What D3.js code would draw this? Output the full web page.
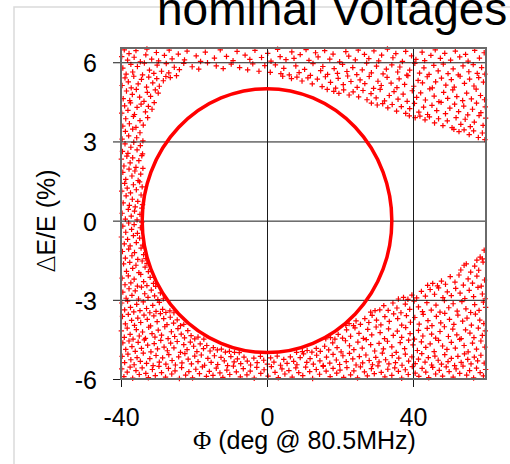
<!DOCTYPE html>
<html>
<head>
<meta charset="utf-8">
<script src="https://cdn.jsdelivr.net/npm/d3@7"></script>
<style>
  body { margin: 0; background: #fff; }
  svg text { font-family: "Liberation Sans", Arial, sans-serif; fill: #000; }
</style>
</head>
<body>
<svg id="chart" width="510" height="464"></svg>
<script>
// axis settings
const xDomain = [-40, 60];
const yDomain = [-6, 6.54];
const xTicks = [-40, 0, 40];
const yTicks = [-6, -3, 0, 3, 6];

// acceptance ellipse (half widths in deg and %)
const ellipsePhi = 34.2;
const ellipseDE = 5.0;

// particle cloud, [phi (deg), dE/E (%)]
const topBand = [
  [-39.8,6.21],[-39.1,6.47],[-38.2,6.08],[-37.8,6.33],[-36.4,6.19],[-35.9,6.44],[-34.7,6.02],[-33.2,6.28],[-32.9,6.5],[-31.6,6.12],
  [-30.3,6.37],[-29.7,6.05],[-28.1,6.26],[-26.8,6.46],[-26.0,6.13],[-24.3,6.31],[-22.6,6.09],[-21.9,6.42],[-19.4,6.24],[-18.2,6.03],
  [-16.9,6.38],[-14.4,6.16],[-12.8,6.47],[-11.1,6.22],[-9.3,6.06],[-8.2,6.41],[-6.0,6.27],[-4.7,6.11],[-3.3,6.45],[-1.5,6.18],
  [0.2,6.34],[1.1,6.04],[2.9,6.49],[3.6,6.21],[5.2,6.1],[6.8,6.39],[7.4,6.15],[9.1,6.29],[10.7,6.48],[11.5,6.07],
  [13.3,6.36],[14.0,6.2],[15.8,6.44],[17.2,6.12],[18.1,6.31],[19.9,6.02],[21.6,6.4],[22.4,6.23],[24.2,6.09],[25.0,6.46],
  [26.7,6.3],[27.9,6.14],[29.3,6.43],[30.6,6.05],[31.4,6.27],[33.0,6.5],[34.5,6.17],[35.3,6.33],[37.1,6.03],[38.0,6.41],
  [39.6,6.24],[40.8,6.11],[42.5,6.38],[43.2,6.06],[44.9,6.26],[46.1,6.47],[47.5,6.15],[48.7,6.34],[50.3,6.08],[51.6,6.42],
  [52.8,6.2],[54.4,6.3],[55.1,6.04],[56.9,6.45],[58.2,6.16],[59.5,6.36],
  [-39.5,5.78],[-38.6,5.55],[-37.3,5.92],[-36.8,5.63],[-35.5,5.84],[-34.1,5.52],[-33.6,5.97],[-32.2,5.7],[-31.0,5.58],[-30.1,5.89],
  [-28.9,5.66],[-27.6,5.95],[-26.9,5.6],[-25.4,5.81],[-24.0,5.72],[-22.8,5.96],[-20.5,5.83],[-18.7,5.74],[-16.3,5.98],[-13.9,5.86],
  [-12.0,5.76],[-9.8,5.93],[-7.5,5.8],[-5.3,5.71],[-3.9,5.94],[-2.2,5.66],[-0.6,5.87],[0.9,5.62],[2.3,5.9],[3.8,5.57],
  [4.6,5.77],[6.1,5.52],[7.9,5.86],[8.8,5.61],[10.3,5.73],[11.9,5.5],[12.6,5.95],[14.7,5.68],[15.3,5.84],[16.6,5.54],
  [18.4,5.76],[19.3,5.58],[20.7,5.92],[21.9,5.65],[23.5,5.8],[24.6,5.53],[26.1,5.71],[27.3,5.97],[28.6,5.6],[30.0,5.85],
  [31.8,5.56],[32.7,5.74],[34.2,5.9],[35.8,5.63],[36.4,5.82],[38.3,5.51],[39.1,5.7],[40.5,5.96],[41.8,5.59],[43.0,5.79],
  [44.4,5.54],[45.7,5.88],[46.9,5.67],[48.3,5.93],[49.6,5.57],[51.0,5.75],[52.4,5.52],[53.7,5.86],[55.3,5.64],[56.5,5.91],
  [57.6,5.58],[58.8,5.8],[59.7,5.55]
];

const upperRight = [
  [4.3,5.47],[6.7,5.38],[8.2,5.44],[9.6,5.29],[11.2,5.41],[12.4,5.18],[13.8,5.36],[15.1,5.08],[16.0,5.45],[17.4,5.24],
  [18.8,5.02],[19.5,5.39],[20.9,5.15],[22.1,5.48],[23.0,5.27],[24.7,5.05],[25.5,5.33],[26.8,5.19],[28.0,5.46],[29.2,5.01],
  [30.4,5.28],[31.3,5.12],[32.9,5.43],[34.0,5.21],[35.6,5.04],[36.2,5.37],[37.7,5.16],[38.6,5.49],[40.2,5.09],[41.4,5.31],
  [42.6,5.22],[43.9,5.45],[45.3,5.03],[46.2,5.26],[47.8,5.4],[49.0,5.13],[50.5,5.34],[51.3,5.06],[52.9,5.47],[54.1,5.2],
  [55.5,5.36],[56.7,5.1],[58.0,5.42],[59.3,5.25],
  [16.5,4.97],[18.3,4.9],[19.7,4.82],[21.0,4.95],[22.5,4.76],[23.6,4.88],[25.1,4.69],[26.3,4.93],[27.4,4.58],[28.5,4.81],
  [29.9,4.65],[31.0,4.97],[32.2,4.54],[33.5,4.74],[34.8,4.89],[35.9,4.6],[37.3,4.79],[38.4,4.52],[39.8,4.92],[41.0,4.67],
  [42.1,4.84],[43.4,4.57],[44.6,4.99],[45.8,4.72],[47.1,4.51],[48.4,4.86],[49.5,4.63],[50.9,4.95],[52.0,4.7],[53.6,4.55],
  [54.7,4.83],[56.0,4.61],[57.3,4.98],[58.5,4.74],[59.6,4.58],
  [28.6,4.45],[30.2,4.38],[31.7,4.43],[33.1,4.27],[34.3,4.4],[35.5,4.15],[36.8,4.32],[38.0,4.06],[39.1,4.24],[40.4,4.44],
  [41.6,4.11],[42.9,4.3],[44.0,4.02],[45.2,4.37],[46.5,4.17],[47.7,4.48],[48.9,4.05],[50.1,4.26],[51.4,4.41],[52.5,4.13],
  [53.9,4.34],[55.0,4.01],[56.3,4.22],[57.4,4.45],[58.6,4.09],[59.8,4.31],
  [39.0,3.97],[40.6,3.9],[41.9,3.96],[43.3,3.82],[44.5,3.93],[45.9,3.7],[47.0,3.86],[48.2,3.6],[49.4,3.78],[50.7,3.52],
  [51.8,3.9],[53.1,3.65],[54.3,3.84],[55.7,3.56],[56.8,3.73],[58.1,3.98],[59.2,3.61],[59.9,3.88],
  [51.2,3.46],[52.6,3.37],[54.0,3.44],[55.4,3.26],[56.6,3.4],[57.9,3.15],[59.0,3.32],[59.7,3.07]
];

const leftStrip = [
  [-39.7,5.12],[-38.9,5.41],[-38.0,5.26],[-37.2,5.03],[-36.5,5.47],[-35.3,5.18],[-34.4,5.35],[-33.0,5.06],[-32.4,5.44],[-31.3,5.22],
  [-30.2,5.38],[-29.5,5.09],[-28.4,5.3],[-27.7,5.46],[-26.5,5.42],[-24.8,5.49],
  [-39.4,4.62],[-38.5,4.91],[-37.6,4.55],[-36.9,4.78],[-35.8,4.97],[-34.9,4.68],[-33.7,4.52],[-32.8,4.86],[-31.9,4.71],[-30.6,4.95],[-29.8,4.83],
  [-39.8,4.07],[-39.0,4.35],[-38.1,4.18],[-37.4,4.46],[-36.3,4.02],[-35.6,4.29],[-34.5,4.41],[-33.3,4.12],[-32.5,4.33],[-31.5,4.22],[-30.9,4.47],
  [-39.5,3.58],[-38.7,3.86],[-37.7,3.67],[-36.6,3.95],[-35.9,3.53],[-34.8,3.79],[-33.9,3.62],[-32.7,3.9],
  [-39.7,3.09],[-38.8,3.38],[-37.9,3.21],[-36.8,3.47],[-35.7,3.14],[-34.8,3.33],[-34.0,3.02],
  [-39.6,2.62],[-38.9,2.91],[-38.1,2.55],[-37.3,2.78],[-36.5,2.97],[-35.6,2.68],[-34.7,2.84],[-34.1,2.53],
  [-39.9,2.33],[-39.2,2.07],[-38.4,2.44],[-37.5,2.19],[-36.8,2.38],[-35.9,2.02],[-35.1,2.27],[-34.3,2.46],
  [-39.5,1.83],[-38.7,1.56],[-37.8,1.95],[-37.0,1.69],[-36.2,1.88],[-35.3,1.52],[-34.6,1.76],[-34.0,1.98],
  [-39.8,1.12],[-39.0,1.41],[-38.3,1.23],[-37.4,1.05],[-36.6,1.36],[-35.8,1.17],[-34.9,1.47],[-34.2,1.28],
  [-39.4,0.67],[-38.6,0.94],[-37.7,0.58],[-36.9,0.81],[-36.1,0.52],[-35.4,0.73],[-34.5,0.97],[-34.1,0.61],
  [-39.7,0.28],[-38.8,0.06],[-38.0,0.43],[-37.2,0.17],[-36.3,0.36],[-35.6,0.03],[-34.8,0.24],[-34.3,0.47],
  [-39.5,-0.21],[-38.7,-0.44],[-37.9,-0.09],[-37.1,-0.33],[-36.4,-0.15],[-35.5,-0.48],[-34.7,-0.27],[-34.3,-0.06],
  [-39.9,-0.62],[-39.1,-0.88],[-38.2,-0.71],[-37.5,-0.96],[-36.6,-0.57],[-35.8,-0.83],[-34.9,-0.66],[-34.1,-0.93],
  [-39.6,-1.17],[-38.8,-1.42],[-37.9,-1.08],[-37.0,-1.33],[-36.3,-1.21],[-35.4,-1.47],[-34.5,-1.04],[-33.8,-1.29],[-33.2,-1.44],
  [-39.3,-1.64],[-38.5,-1.92],[-37.6,-1.58],[-36.8,-1.81],[-35.9,-1.69],[-35.1,-1.97],[-34.2,-1.53],[-33.4,-1.76],[-32.5,-1.93],[-32.9,-1.62]
];

const lowerLeft = [
  [-39.7,-2.18],[-38.9,-2.43],[-38.0,-2.09],[-37.3,-2.36],[-36.4,-2.22],[-35.5,-2.48],[-34.6,-2.04],[-33.8,-2.31],[-32.9,-2.46],[-32.0,-2.15],
  [-31.1,-2.38],[-30.5,-2.49],
  [-39.5,-2.71],[-38.6,-2.94],[-37.8,-2.58],[-37.0,-2.83],[-36.1,-2.66],[-35.2,-2.97],[-34.4,-2.52],[-33.5,-2.77],[-32.6,-2.91],[-31.7,-2.63],
  [-30.8,-2.85],[-29.9,-2.99],[-29.2,-2.74],[-28.4,-2.96],
  [-39.8,-3.12],[-39.0,-3.38],[-38.2,-3.05],[-37.4,-3.29],[-36.5,-3.46],[-35.7,-3.17],[-34.8,-3.41],[-33.9,-3.08],[-33.0,-3.33],[-32.1,-3.49],
  [-31.3,-3.21],[-30.4,-3.44],[-29.5,-3.1],[-28.6,-3.36],[-27.7,-3.48],[-26.6,-3.42],[-25.5,-3.49],
  [-39.6,-3.63],[-38.8,-3.91],[-38.0,-3.55],[-37.1,-3.78],[-36.3,-3.97],[-35.4,-3.69],[-34.6,-3.86],[-33.7,-3.58],[-32.8,-3.74],[-31.9,-3.99],
  [-31.0,-3.61],[-30.1,-3.83],[-29.2,-3.52],[-28.3,-3.71],[-27.4,-3.94],[-26.5,-3.66],[-25.6,-3.88],[-24.6,-3.76],[-23.7,-3.98],[-22.8,-3.93],
  [-39.9,-4.18],[-39.1,-4.42],[-38.3,-4.07],[-37.5,-4.31],[-36.7,-4.49],[-35.8,-4.13],[-35.0,-4.37],[-34.1,-4.22],[-33.3,-4.46],[-32.4,-4.04],
  [-31.5,-4.28],[-30.7,-4.41],[-29.8,-4.15],[-28.9,-4.34],[-28.0,-4.02],[-27.1,-4.47],[-26.2,-4.21],[-25.3,-4.39],[-24.4,-4.09],[-23.5,-4.3],
  [-22.6,-4.44],[-21.7,-4.17],[-20.8,-4.36],[-19.8,-4.48],[-18.9,-4.41],[-17.3,-4.49]
];

const lowerRight = [
  [58.4,-1.38],[59.5,-1.12],[59.0,-1.45],
  [53.1,-1.87],[54.0,-1.69],[54.6,-1.64],[55.8,-1.95],[56.9,-1.72],[57.5,-1.5],[58.0,-1.88],[59.2,-1.57],
  [44.0,-2.45],[45.4,-2.38],[46.7,-2.47],[47.8,-2.29],[48.9,-2.41],[50.2,-2.12],[51.5,-2.33],[52.6,-2.06],[53.8,-2.44],[55.1,-2.21],
  [56.3,-2.37],[57.5,-2.1],[58.7,-2.48],[59.6,-2.25],
  [36.0,-2.97],[37.4,-2.91],[38.6,-2.98],[39.7,-2.82],[41.0,-2.93],[42.3,-2.68],[43.4,-2.86],[44.7,-2.61],[45.9,-2.79],[47.0,-2.55],
  [48.2,-2.92],[49.4,-2.7],[50.5,-2.84],[51.7,-2.57],[52.9,-2.75],[54.2,-2.95],[55.4,-2.64],[56.6,-2.88],[57.8,-2.53],[59.0,-2.78],[59.8,-2.96],
  [28.4,-3.47],[29.6,-3.41],[30.9,-3.38],[32.0,-3.22],[33.2,-3.4],[34.5,-3.12],[35.6,-3.31],[36.7,-3.49],[37.9,-3.16],[39.1,-3.36],
  [40.3,-3.05],[41.5,-3.27],[42.6,-3.45],[43.8,-3.11],[45.0,-3.39],[46.3,-3.2],[47.4,-3.47],[48.6,-3.03],[49.8,-3.3],[51.0,-3.15],
  [52.1,-3.43],[53.4,-3.07],[54.5,-3.34],[55.8,-3.48],[56.9,-3.18],[58.1,-3.4],[59.3,-3.09],[59.9,-3.29],
  [21.6,-3.97],[22.5,-3.9],[23.7,-3.98],[24.4,-3.8],[25.6,-3.93],[26.8,-3.71],[27.9,-3.86],[28.8,-3.59],[30.0,-3.77],[31.2,-3.95],
  [32.3,-3.64],[33.5,-3.82],[34.7,-3.53],[35.8,-3.71],[36.9,-3.96],[38.2,-3.6],[39.3,-3.85],[40.5,-3.67],[41.7,-3.92],[42.8,-3.55],
  [44.1,-3.79],[45.2,-3.98],[46.4,-3.63],[47.6,-3.87],[48.7,-3.51],[50.0,-3.74],[51.2,-3.93],[52.3,-3.58],[53.6,-3.81],[54.8,-3.69],
  [56.0,-3.96],[57.1,-3.54],[58.3,-3.77],[59.4,-3.9],
  [16.1,-4.48],[17.4,-4.43],[18.6,-4.49],[19.5,-4.31],[20.7,-4.45],[21.8,-4.14],[22.9,-4.38],[24.1,-4.06],[25.2,-4.27],[26.4,-4.46],
  [27.6,-4.12],[28.7,-4.33],[29.9,-4.03],[31.0,-4.24],[32.2,-4.47],[33.3,-4.1],[34.6,-4.35],[35.7,-4.19],[36.9,-4.42],[38.0,-4.05],
  [39.2,-4.28],[40.4,-4.49],[41.5,-4.16],[42.7,-4.37],[43.9,-4.08],[45.1,-4.3],[46.2,-4.45],[47.4,-4.2],[48.6,-4.02],[49.7,-4.39],
  [50.9,-4.11],[52.0,-4.33],[53.2,-4.47],[54.4,-4.14],[55.6,-4.26],[56.7,-4.43],[57.9,-4.07],[59.0,-4.35],[59.8,-4.18]
];

const bottomBand = [
  [-39.5,-4.63],[-38.7,-4.88],[-37.8,-4.56],[-37.0,-4.77],[-36.1,-4.95],[-35.3,-4.61],[-34.4,-4.84],[-33.6,-4.52],[-32.7,-4.72],[-31.8,-4.97],
  [-30.9,-4.66],[-30.0,-4.86],[-29.1,-4.54],[-28.2,-4.79],[-27.3,-4.93],[-26.4,-4.64],[-25.5,-4.82],[-24.6,-4.58],[-23.7,-4.99],[-22.8,-4.7],
  [-21.9,-4.89],[-21.0,-4.6],[-20.1,-4.76],[-19.2,-4.96],[-18.3,-4.67],[-17.4,-4.85],[-16.5,-4.73],[-15.6,-4.94],[-14.7,-4.81],[-13.6,-4.9],
  [-12.5,-4.87],[-11.4,-4.98],[-10.3,-4.95],[-8.9,-4.99],[-7.6,-5.0],
  [8.1,-4.99],[9.7,-4.96],[11.0,-4.92],[12.3,-4.98],[13.5,-4.84],[14.6,-4.95],[15.8,-4.76],[16.9,-4.9],[18.0,-4.63],[19.2,-4.81],
  [20.3,-4.97],[21.5,-4.55],[22.6,-4.74],[23.8,-4.89],[24.9,-4.6],[26.1,-4.83],[27.2,-4.51],[28.4,-4.7],[29.5,-4.94],[30.7,-4.65],
  [31.9,-4.86],[33.0,-4.57],[34.2,-4.78],[35.4,-4.99],[36.5,-4.62],[37.7,-4.85],[38.8,-4.53],[40.0,-4.71],[41.2,-4.92],[42.3,-4.59],
  [43.5,-4.8],[44.7,-4.67],[45.8,-4.96],[47.0,-4.54],[48.1,-4.75],[49.3,-4.88],[50.5,-4.61],[51.6,-4.83],[52.8,-4.5],[54.0,-4.73],
  [55.1,-4.97],[56.3,-4.64],[57.4,-4.87],[58.6,-4.56],[59.7,-4.79],
  [-39.7,-5.14],[-39.0,-5.38],[-38.1,-5.06],[-37.3,-5.27],[-36.4,-5.46],[-35.6,-5.19],[-34.7,-5.33],[-33.9,-5.02],[-33.0,-5.41],[-32.1,-5.23],
  [-31.2,-5.49],[-30.4,-5.11],[-29.5,-5.36],[-28.6,-5.2],[-27.7,-5.44],[-26.9,-5.08],[-26.0,-5.3],[-25.1,-5.47],[-24.2,-5.16],[-23.3,-5.39],
  [-22.5,-5.04],[-21.6,-5.25],[-20.7,-5.43],[-19.8,-5.13],[-18.9,-5.34],[-18.0,-5.09],[-17.1,-5.48],[-16.2,-5.22],[-15.3,-5.37],[-14.4,-5.12],
  [-13.5,-5.45],[-12.6,-5.18],[-11.7,-5.31],[-10.8,-5.49],[-9.9,-5.15],[-9.0,-5.35],[-8.1,-5.24],[-7.2,-5.42],[-6.3,-5.17],[-5.4,-5.32],
  [-4.5,-5.47],[-3.6,-5.21],[-2.7,-5.38],[-1.8,-5.14],[-0.9,-5.29],[0.1,-5.44],[1.0,-5.2],[1.9,-5.36],[2.8,-5.13],[3.7,-5.48],
  [4.6,-5.26],[5.5,-5.41],[6.4,-5.16],[7.3,-5.33],[8.2,-5.46],[9.1,-5.19],[10.0,-5.05],[10.9,-5.37],[11.8,-5.23],[12.7,-5.44],
  [13.6,-5.1],[14.5,-5.31],[15.4,-5.49],[16.3,-5.17],[17.2,-5.4],[18.1,-5.07],[19.0,-5.28],[19.9,-5.45],[20.8,-5.12],[21.7,-5.34],
  [22.6,-5.03],[23.5,-5.24],[24.4,-5.47],[25.3,-5.15],[26.2,-5.39],[27.1,-5.09],[28.0,-5.3],[28.9,-5.46],[29.8,-5.18],[30.7,-5.35],
  [31.6,-5.02],[32.5,-5.27],[33.4,-5.43],[34.3,-5.11],[35.2,-5.38],[36.1,-5.21],[37.0,-5.48],[37.9,-5.06],[38.8,-5.32],[39.7,-5.16],
  [40.6,-5.42],[41.5,-5.25],[42.4,-5.04],[43.3,-5.36],[44.2,-5.19],[45.1,-5.47],[46.0,-5.13],[46.9,-5.29],[47.8,-5.44],[48.7,-5.08],
  [49.6,-5.34],[50.5,-5.22],[51.4,-5.49],[52.3,-5.14],[53.2,-5.37],[54.1,-5.05],[55.0,-5.26],[55.9,-5.43],[56.8,-5.17],[57.7,-5.31],
  [58.6,-5.1],[59.5,-5.4],
  [-39.8,-5.62],[-39.2,-5.91],[-38.3,-5.74],[-37.5,-5.55],[-36.8,-5.97],[-35.9,-5.68],[-35.0,-5.83],[-34.2,-5.58],[-33.2,-5.79],[-32.5,-5.95],
  [-31.4,-5.64],[-30.6,-5.87],[-29.6,-5.52],[-28.9,-5.76],[-27.8,-5.93],[-27.0,-5.6],[-26.1,-5.81],[-25.2,-5.69],[-24.0,-5.98],[-23.4,-5.57],
  [-22.3,-5.85],[-21.4,-5.72],[-20.4,-5.96],[-19.5,-5.63],[-18.5,-5.8],[-17.7,-5.54],[-16.6,-5.9],[-15.8,-5.71],[-14.8,-5.86],[-13.9,-5.59],
  [-12.9,-5.77],[-12.1,-5.94],[-11.0,-5.66],[-10.2,-5.83],[-9.2,-5.51],[-8.4,-5.73],[-7.3,-5.92],[-6.5,-5.61],[-5.5,-5.84],[-4.6,-5.7],
  [-3.5,-5.97],[-2.8,-5.56],[-1.7,-5.79],[-0.8,-5.65],[0.3,-5.89],[1.2,-5.53],[2.2,-5.75],[3.1,-5.95],[4.1,-5.62],[4.9,-5.81],
  [6.0,-5.68],[6.9,-5.93],[7.9,-5.58],[8.7,-5.76],[9.8,-5.87],[10.6,-5.55],[11.7,-5.72],[12.5,-5.98],[13.5,-5.64],[14.4,-5.82],
  [15.4,-5.52],[16.2,-5.7],[17.3,-5.91],[18.1,-5.6],[19.1,-5.78],[20.0,-5.66],[21.0,-5.94],[21.9,-5.57],[22.9,-5.84],[23.8,-5.69],
  [24.8,-5.96],[25.6,-5.54],[26.7,-5.73],[27.5,-5.88],[28.6,-5.61],[29.4,-5.8],[30.4,-5.5],[31.3,-5.75],[32.3,-5.92],[33.1,-5.63],
  [34.2,-5.86],[35.0,-5.58],[36.0,-5.71],[36.9,-5.97],[37.9,-5.65],[38.7,-5.83],[39.8,-5.53],[40.6,-5.78],[41.6,-5.9],[42.5,-5.6],
  [43.5,-5.74],[44.3,-5.95],[45.4,-5.56],[46.2,-5.81],[47.2,-5.67],[48.1,-5.89],[49.1,-5.54],[49.9,-5.72],[51.0,-5.93],[51.8,-5.62],
  [52.8,-5.79],[53.7,-5.51],[54.7,-5.85],[55.5,-5.68],[56.6,-5.96],[57.4,-5.59],[58.4,-5.76],[59.3,-5.88],[59.9,-5.64]
];

const svg = d3.select('#chart');

const plot = { left: 121, right: 486, top: 48, bottom: 379 };

const x = d3.scaleLinear().domain(xDomain).range([plot.left, plot.right]);
const y = d3.scaleLinear().domain(yDomain).range([plot.bottom, plot.top]);

// light slide frame behind everything
svg.append('path')
    .attr('d', 'M14,464V7H510')
    .attr('fill', 'none')
    .attr('stroke', '#dadada')
    .attr('stroke-width', 1.5);

// title, cut at the top like the slide
svg.append('text')
    .attr('x', 157)
    .attr('y', 25)
    .style('font-size', '46px')
    .text('nominal Voltages');

// cloud of particles
const cloud = [].concat(topBand, upperRight, leftStrip, lowerLeft, lowerRight, bottomBand);

svg.append('g')
    .selectAll('path')
    .data(cloud)
    .join('path')
    .attr('transform', d => `translate(${x(d[0])},${y(d[1])})`)
    .attr('d', 'M-2.7,0H2.7M0,-2.7V2.7')
    .attr('fill', 'none')
    .attr('stroke', '#ff0000')
    .attr('stroke-width', 1.2);

// grid lines + outside ticks
const tickOut = 8;
const yAxis = d3.axisLeft(y)
    .tickValues(yTicks)
    .tickFormat(d => String(d))
    .tickSize(-(plot.right - plot.left + tickOut))
    .tickPadding(16);

svg.append('g')
    .attr('transform', `translate(${plot.left - tickOut},0)`)
    .call(yAxis)
    .call(g => g.select('.domain').remove())
    .call(g => g.selectAll('line').attr('stroke', '#1a1a1a'))
    .call(g => g.selectAll('text').attr('dy', '0.38em').style('font-size', '25px').style('font-family', '"Liberation Sans", Arial, sans-serif'));

const xAxis = d3.axisBottom(x)
    .tickValues(xTicks)
    .tickFormat(d => String(d))
    .tickSize(-(plot.bottom - plot.top + tickOut))
    .tickPadding(21);

svg.append('g')
    .attr('transform', `translate(0,${plot.bottom + tickOut})`)
    .call(xAxis)
    .call(g => g.select('.domain').remove())
    .call(g => g.selectAll('line').attr('stroke', '#1a1a1a'))
    .call(g => g.selectAll('text').style('font-size', '25px').style('font-family', '"Liberation Sans", Arial, sans-serif'));

// acceptance ellipse
svg.append('ellipse')
    .attr('cx', x(0))
    .attr('cy', y(0))
    .attr('rx', x(ellipsePhi) - x(0))
    .attr('ry', y(0) - y(ellipseDE))
    .attr('fill', 'none')
    .attr('stroke', '#ff0000')
    .attr('stroke-width', 3.5);

// plot frame
svg.append('rect')
    .attr('x', plot.left)
    .attr('y', plot.top)
    .attr('width', plot.right - plot.left)
    .attr('height', plot.bottom - plot.top)
    .attr('fill', 'none')
    .attr('stroke', '#6a6a6a')
    .attr('stroke-width', 2);

// axis titles
svg.append('text')
    .attr('x', 193)
    .attr('y', 449)
    .style('font-size', '25px')
    .call(t => {
        t.append('tspan').style('font-family', '"Liberation Serif", serif').text('Φ');
        t.append('tspan').text(' (deg @ 80.5MHz)');
    });

svg.append('text')
    .attr('transform', 'translate(55,221) rotate(-90)')
    .attr('text-anchor', 'middle')
    .style('font-size', '25px')
    .call(t => {
        t.append('tspan').style('font-family', '"DejaVu Sans", sans-serif').style('font-weight', 300).text('Δ');
        t.append('tspan').text('E/E (%)');
    });
</script>
</body>
</html>
